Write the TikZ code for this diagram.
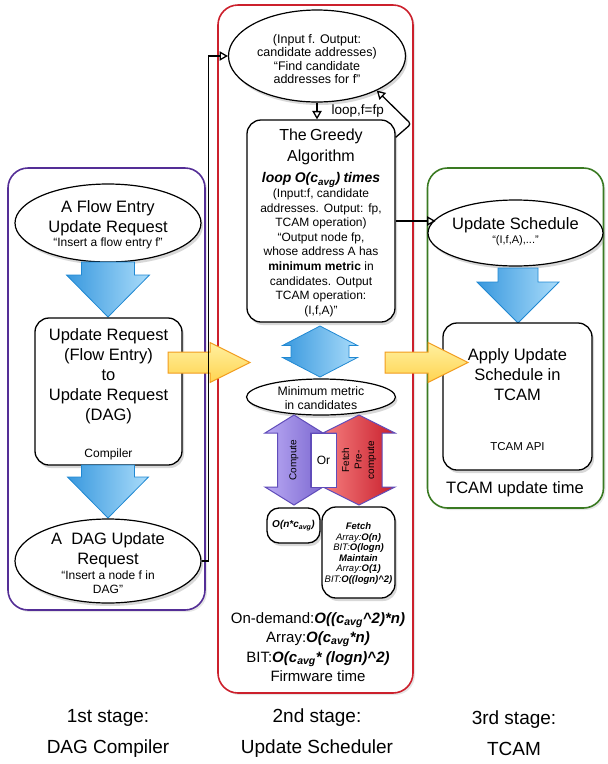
\documentclass[tikz,border=0pt]{standalone}
\usepackage{fontspec}
\setmainfont{Liberation Sans}
\usetikzlibrary{arrows,shapes.geometric,shadows}

\definecolor{stagepurple}{RGB}{84,46,150}
\definecolor{stagered}{RGB}{204,32,44}
\definecolor{stagegreen}{RGB}{58,122,34}
\definecolor{blueline}{RGB}{32,136,210}
\definecolor{bluedark}{RGB}{56,152,222}
\definecolor{bluelight}{RGB}{170,220,250}
\definecolor{yelline}{RGB}{242,156,30}
\definecolor{yeltop}{RGB}{255,240,160}
\definecolor{yelbot}{RGB}{255,212,80}
\definecolor{purpline}{RGB}{96,76,186}
\definecolor{purplight}{RGB}{186,170,244}
\definecolor{purpdark}{RGB}{124,104,208}
\definecolor{redlight}{RGB}{246,128,128}
\definecolor{reddark}{RGB}{200,30,44}

\newcommand{\cavg}{c\textsubscript{avg}}
\newcommand{\fsz}[2]{\fontsize{#1}{#2}\selectfont}

\tikzset{
  stage/.style={draw=#1, fill=white, line width=1.6pt, rounded corners=20pt, inner sep=0pt,
    drop shadow={opacity=0.2, shadow xshift=2pt, shadow yshift=-2pt}},
  bubble/.style={ellipse, draw, fill=white, line width=1.2pt, inner sep=0pt,
    drop shadow={opacity=0.3, shadow xshift=2pt, shadow yshift=-3pt}},
  procbox/.style={rectangle, draw, fill=white, line width=1.3pt, rounded corners=14pt, inner sep=0pt,
    drop shadow={opacity=0.3, shadow xshift=2pt, shadow yshift=-3pt}},
  blueblock/.style={draw=blueline, line width=0.8pt, left color=bluedark, right color=bluelight},
  choiceblock/.style 2 args={draw=purpline, line width=1pt, left color=#1, right color=#2},
  yelblock/.style={draw=yelline, line width=1pt, top color=yeltop, bottom color=yelbot},
  conn/.style={->, line width=1.3pt},
  txt/.style={align=center, inner sep=0pt, font=\fsz{16.5}{20}},
  qtxt/.style={align=center, inner sep=0pt, font=\fsz{12}{14}},
}

\begin{document}
\begin{tikzpicture}[x=1pt, y=-1pt, >=open triangle 60]
    \useasboundingbox (0,0) rectangle (608,764);

    % Stage frames
    \node [stage=stagepurple, minimum width=197, minimum height=442] (stageA) at (106.5,389) {};
    \node [stage=stagered,    minimum width=195, minimum height=688] (stageB) at (315.5,349) {};
    \node [stage=stagegreen,  minimum width=176, minimum height=340] (stageC) at (515.5,338) {};

    % 1st stage: DAG compiler
    \node [bubble, minimum width=186, minimum height=78] (flow) at (108,223) {};
    \node [txt] (flowtxt) at (108,225) {A Flow Entry\\Update Request\\[-6pt]{\fsz{12}{14}“Insert a flow entry f”}};
    \draw [blueblock, shift={(108,262)}] (-26.5,0) -- (26.5,0) -- (26.5,13) -- (41.5,13) -- (0,55)
        -- (-41.5,13) -- (-26.5,13) -- cycle;
    \node [procbox, minimum width=147, minimum height=147] (compile) at (108.5,391.5) {};
    \node [txt] (compiletxt) at (108.5,376) {Update Request\\(Flow Entry)\\to\\Update Request\\(DAG)};
    \node [qtxt] (compilerlbl) at (108.5,454) {Compiler};
    \draw [blueblock, shift={(108,465)}] (-26.5,0) -- (26.5,0) -- (26.5,12) -- (40.5,12) -- (0,53)
        -- (-40.5,12) -- (-26.5,12) -- cycle;
    \node [bubble, minimum width=186, minimum height=84] (dag) at (108,561) {};
    \node [txt] (dagtxt) at (108,563) {A~ DAG Update\\Request\\[-5pt]{\fsz{12}{14}“Insert a node f in}\\[-6pt]{\fsz{12}{14}DAG”}};

    % 2nd stage: update scheduler
    \node [bubble, minimum width=177, minimum height=92] (top) at (317,56) {};
    \node [align=center, inner sep=0pt, font=\fsz{12.5}{13.6}] (toptxt) at (317,59)
        {(Input f. Output:\\candidate addresses)\\“Find candidate\\addresses for f”};
    \node [procbox, minimum width=148, minimum height=202] (greedy) at (321,221) {};
    \node [text width=146pt, align=center, inner sep=0pt] (greedytxt) at (321,223)
        {{\fsz{16}{21}The Greedy\\Algorithm\par}
         {\fsz{14}{21}\bfseries\itshape loop O(\cavg) times\par}
         {\fsz{12}{14.6}(Input:f, candidate\\addresses. Output: fp,\\TCAM operation)\\“Output node fp,\\whose address A has\\\textbf{minimum metric} in\\candidates. Output\\TCAM operation:\\(I,f,A)”\par}};
    \draw [blueblock, shift={(320,351.5)}] (0,-25.5) -- (37.5,-6) -- (29,-6) -- (29,6) -- (37.5,6)
        -- (0,25.5) -- (-37.5,6) -- (-29,6) -- (-29,-6) -- (-37.5,-6) -- cycle;
    \node [bubble, minimum width=149, minimum height=36] (metric) at (321,397) {};
    \node [align=center, inner sep=0pt, font=\fsz{12.3}{14}] (metrictxt) at (321,398) {Minimum metric\\in candidates};
    \draw [choiceblock={purplight}{purpdark}, shift={(294,460)}] (0,-45) -- (29,-27) -- (16.5,-27)
        -- (16.5,27) -- (29,27) -- (0,45) -- (-29,27) -- (-16.5,27) -- (-16.5,-27) -- (-29,-27) -- cycle;
    \draw [choiceblock={redlight}{reddark}, shift={(359,460)}] (0,-45) -- (36,-27) -- (23,-27)
        -- (23,27) -- (36,27) -- (0,45) -- (-36,27) -- (-23,27) -- (-23,-27) -- (-36,-27) -- cycle;
    \node [draw=purpline, line width=0.8pt, fill=white, minimum width=25, minimum height=54,
           inner sep=0pt] (orbox) at (323.5,460) {};
    \node [font=\fsz{12}{14}, inner sep=0pt] (ortxt) at (orbox.center) {Or};
    \node [rotate=90, font=\fsz{10}{12}, inner sep=0pt] (computetxt) at (294,460) {Compute};
    \node [rotate=90, align=center, font=\fsz{10}{12.5}, inner sep=0pt] (fetchtxt) at (359,460) {Fetch\\Pre-\\compute};
    \node [procbox, rounded corners=12pt, minimum width=53, minimum height=35] (costA) at (293.5,525.5) {};
    \node [font=\fsz{10}{12}\bfseries\itshape, inner sep=0pt] (costAtxt) at (costA.center) {O(n*\cavg)};
    \node [procbox, minimum width=73, minimum height=91] (costB) at (358.5,552.5) {};
    \node [align=center, font=\fsz{9.5}{10.5}, inner sep=0pt] (costBtxt) at (358.5,553.5)
        {\textbf{\textit{Fetch}}\\\textit{Array:}\textbf{\textit{O(n)}}\\\textit{BIT:}\textbf{\textit{O(logn)}}\\
         \textbf{\textit{Maintain}}\\\textit{Array:}\textbf{\textit{O(1)}}\\\textit{BIT:}\textbf{\textit{O((logn)\textasciicircum 2)}}};
    \node [align=center, font=\fsz{15}{19.3}, inner sep=0pt] (firmware) at (318,647)
        {On-demand:\textbf{\textit{O((\cavg\textasciicircum 2)*n)}}\\Array:\textbf{\textit{O(\cavg*n)}}\\
         BIT:\textbf{\textit{O(\cavg* (logn)\textasciicircum 2)}}\\Firmware time};

    % 3rd stage: TCAM
    \node [bubble, minimum width=175, minimum height=66] (sched) at (515.5,233) {};
    \node [txt] (schedtxt) at (515.5,232) {Update Schedule\\[-6pt]{\fsz{11}{13}“(I,f,A),...”}};
    \draw [blueblock, shift={(518,268)}] (-20,0) -- (20,0) -- (20,14) -- (41,14) -- (0,55)
        -- (-41,14) -- (-20,14) -- cycle;
    \node [procbox, minimum width=149, minimum height=147] (apply) at (517.5,396.5) {};
    \node [txt] (applytxt) at (517.5,375) {Apply Update\\Schedule in\\TCAM};
    \node [font=\fsz{11.5}{14}, inner sep=0pt] (apitxt) at (517.5,447) {TCAM API};
    \node [txt] (tcamtime) at (515,489) {TCAM update time};

    % Stage to stage
    \draw [yelblock, shift={(168,362.5)}] (0,-10.5) -- (42,-10.5) -- (42,-20) -- (82,0) -- (42,20)
        -- (42,10.5) -- (0,10.5) -- cycle;
    \draw [yelblock, shift={(385,362.5)}] (0,-10.5) -- (43,-10.5) -- (43,-20) -- (83,0) -- (43,20)
        -- (43,10.5) -- (0,10.5) -- cycle;

    % Paths
    \coordinate (loopbend) at (411,124);
    \draw [conn] (dag.east) -- ++(7,0) |- (top.west);
    \draw [conn] (top.south) -- (top.south |- greedy.north)
        node [midway, right, xshift=14pt, inner sep=0pt, font=\fsz{13.5}{16}] (looplbl) {loop,f=fp};
    \draw [conn, rounded corners=3pt] ([yshift=-18pt]greedy.north east) -- (loopbend) -- (top.-30);
    \draw [conn] (greedy.east) -- (greedy.east -| sched.170);

    % Stage names
    \node [align=center, font=\fsz{19}{31}] (nameA) at (108,733) {1st stage:\\DAG Compiler};
    \node [align=center, font=\fsz{19}{31}] (nameB) at (317,733) {2nd stage:\\Update Scheduler};
    \node [align=center, font=\fsz{19}{31}] (nameC) at (514,733) {3rd stage:\\TCAM};
\end{tikzpicture}
\end{document}
